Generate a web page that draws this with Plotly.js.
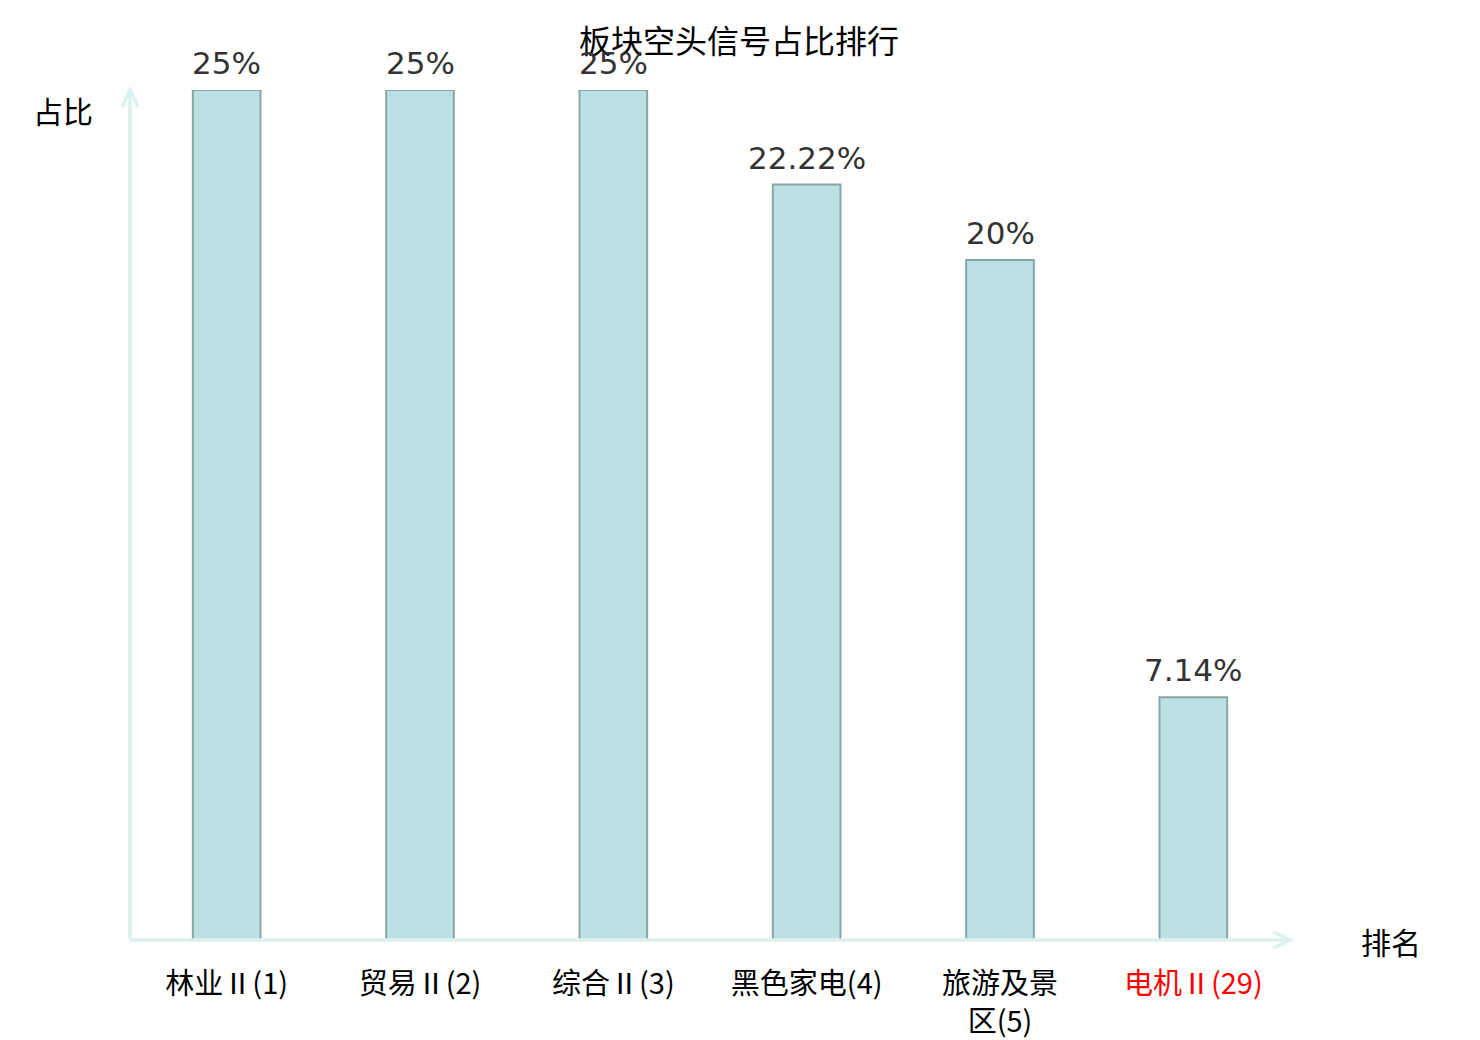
<!DOCTYPE html>
<html>
<head>
<meta charset="utf-8">
<script src="https://cdn.plot.ly/plotly-3.0.1.min.js"></script>
<style>
html,body{margin:0;padding:0;background:#fff;}
#chart{width:1480px;height:1040px;}
</style>
</head>
<body>
<div id="chart"></div>
<script>
const categories = ["林业Ⅱ(1)", "贸易Ⅱ(2)", "综合Ⅱ(3)", "黑色家电(4)", "旅游及景<br>区(5)", "电机Ⅱ(29)"];
const values = [25, 25, 25, 22.22, 20, 7.14];
const valueLabels = ["25%", "25%", "25%", "22.22%", "20%", "7.14%"];
const highlighted = [false, false, false, false, false, true];

const FONT = '"Noto Sans CJK SC", "Noto Sans", sans-serif';
const keys = categories.map((c, i) => 'c' + i);
const tickText = categories.map((c, i) => highlighted[i] ? '<span style="color:#ff0000">' + c + '</span>' : c);

const trace = {
  type: 'bar',
  x: keys,
  y: values,
  width: 0.35,
  marker: { color: '#bce0e3', line: { color: '#88a6a6', width: 2 } },
  hoverinfo: 'none'
};

const annotations = keys.map((k, i) => ({
  x: k, y: values[i], xref: 'x', yref: 'y',
  text: valueLabels[i], showarrow: false,
  yanchor: 'bottom', yshift: 7,
  font: { family: '"DejaVu Sans", sans-serif', size: 31, color: '#333333' }
}));
annotations.push({
  xref: 'paper', yref: 'paper', x: (63 - 130) / 1160, y: (940 - 110) / 850,
  text: '占比', showarrow: false, xanchor: 'center', yanchor: 'middle',
  font: { family: FONT, size: 30, color: '#000' }
});
annotations.push({
  xref: 'paper', yref: 'paper', x: (1391 - 130) / 1160, y: (940 - 941) / 850,
  text: '排名', showarrow: false, xanchor: 'center', yanchor: 'middle',
  font: { family: FONT, size: 30, color: '#000' }
});

const W = 1160, H = 850;
const axisColor = '#dcf1ee';
const shapes = [
  { type: 'line', xref: 'paper', yref: 'paper', x0: 0, y0: 0, x1: 0, y1: 1, line: { color: axisColor, width: 3.5 } },
  { type: 'line', xref: 'paper', yref: 'paper', x0: 0, y0: 0, x1: 1, y1: 0, line: { color: axisColor, width: 3.5 } },
  { type: 'path', xref: 'paper', yref: 'paper',
    path: `M ${-8 / W},${1 - 17 / H} L 0,1 L ${8 / W},${1 - 17 / H}`, line: { color: axisColor, width: 3.5 } },
  { type: 'path', xref: 'paper', yref: 'paper',
    path: `M ${1 - 17 / W},${8 / H} L 1,0 L ${1 - 17 / W},${-8 / H}`, line: { color: axisColor, width: 3.5 } }
];

const layout = {
  width: 1480, height: 1040,
  margin: { l: 130, r: 190, t: 90, b: 100 },
  paper_bgcolor: '#ffffff', plot_bgcolor: '#ffffff',
  title: { text: '板块空头信号占比排行', x: 739 / 1480, xanchor: 'center', xref: 'container',
           y: 1 - 42 / 1040, yanchor: 'middle', yref: 'container',
           font: { family: FONT, size: 32, color: '#000' } },
  xaxis: {
    tickmode: 'array', tickvals: keys, ticktext: tickText,
    showline: false, showgrid: false, zeroline: false, ticks: '',
    ticklabelstandoff: 24,
    tickfont: { family: FONT, size: 29, color: '#000' },
    fixedrange: true
  },
  yaxis: {
    range: [0, 25], showline: false, showgrid: false, zeroline: false,
    showticklabels: false, ticks: '', fixedrange: true
  },
  showlegend: false,
  annotations: annotations,
  shapes: shapes
};

Plotly.newPlot('chart', [trace], layout, { displayModeBar: false, staticPlot: true });
</script>
</body>
</html>
